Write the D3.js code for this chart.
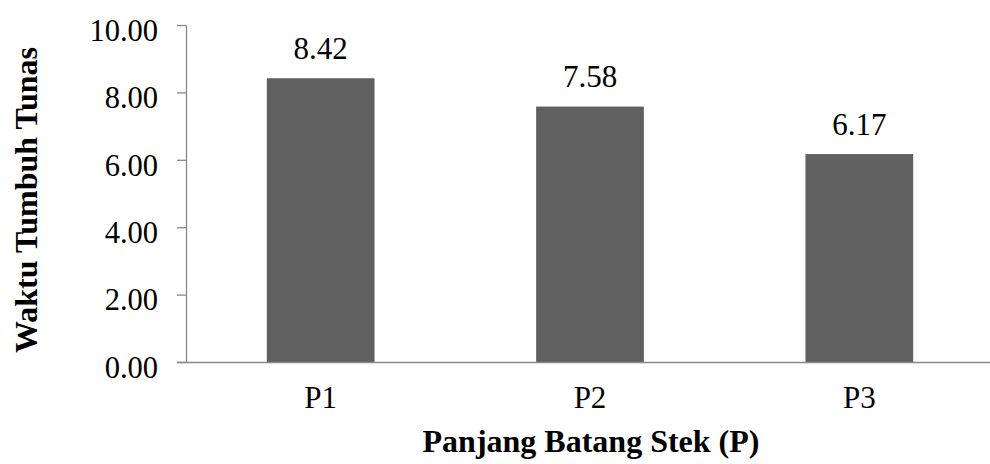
<!DOCTYPE html>
<html>
<head>
<meta charset="utf-8">
<script src="https://cdn.jsdelivr.net/npm/d3@7"></script>
<style>
  html, body { margin: 0; padding: 0; background: #fff; }
  svg { display: block; }
  text { font-family: "Liberation Serif", "Times New Roman", serif; fill: #000; }
</style>
</head>
<body>
<svg id="chart" width="990" height="464"></svg>
<script>
// Data
const categories = ["P1", "P2", "P3"];
const values = [8.42, 7.58, 6.17];
const yTicks = [0, 2, 4, 6, 8, 10];

const svg = d3.select("#chart");
const margin = { left: 186, top: 25, right: -4, bottom: 102 };
const width = 990, height = 464;
const serif = "'Liberation Serif', 'Times New Roman', serif";

const x = d3.scaleBand()
  .domain(categories)
  .range([margin.left, width - margin.right])
  .paddingInner(0.6)
  .paddingOuter(0.3);

const y = d3.scaleLinear()
  .domain([0, 10])
  .range([height - margin.bottom, margin.top]);

// Bars
svg.append("g").selectAll("rect")
  .data(values)
  .join("rect")
  .attr("x", (d, i) => x(categories[i]))
  .attr("y", d => y(d))
  .attr("width", x.bandwidth())
  .attr("height", d => y(0) - y(d))
  .attr("fill", "#606060");

// Value labels
svg.append("g").selectAll("text")
  .data(values)
  .join("text")
  .attr("x", (d, i) => x(categories[i]) + x.bandwidth() / 2)
  .attr("y", d => y(d) - 19.5)
  .attr("text-anchor", "middle")
  .style("font-size", "31px")
  .style("font-family", serif)
  .text(d => d.toFixed(2));

// Y axis
const yAxis = svg.append("g")
  .attr("transform", `translate(${margin.left},0)`)
  .call(d3.axisLeft(y).tickValues(yTicks).tickFormat(d => d.toFixed(2)).tickSize(9).tickSizeOuter(0));
yAxis.select(".domain").attr("stroke", "#888").attr("stroke-width", 1.3);
yAxis.selectAll(".tick line").attr("stroke", "#888").attr("stroke-width", 1.3);
yAxis.selectAll(".tick text")
  .attr("x", -28)
  .attr("dy", "0.5em")
  .style("font-size", "30.5px")
  .style("font-family", serif)
  .attr("fill", "#000");

// X axis
const xAxis = svg.append("g")
  .attr("transform", `translate(0,${y(0)})`)
  .call(d3.axisBottom(x).tickSize(0).tickSizeOuter(0));
xAxis.select(".domain").attr("stroke", "#888").attr("stroke-width", 1.3)
  .attr("d", `M${margin.left - 9},0.5H${width}`);
xAxis.selectAll(".tick text")
  .attr("y", 46)
  .attr("dy", "0")
  .style("font-size", "31px")
  .style("font-family", serif)
  .attr("fill", "#000");

// Axis titles
svg.append("text")
  .attr("x", 591)
  .attr("y", 452)
  .attr("text-anchor", "middle")
  .style("font-size", "32px")
  .style("font-weight", "bold")
  .style("font-family", serif)
  .text("Panjang Batang Stek (P)");

svg.append("text")
  .attr("transform", "translate(37,200) rotate(-90)")
  .attr("text-anchor", "middle")
  .style("font-size", "32px")
  .style("font-weight", "bold")
  .style("font-family", serif)
  .text("Waktu Tumbuh Tunas");
</script>
</body>
</html>
